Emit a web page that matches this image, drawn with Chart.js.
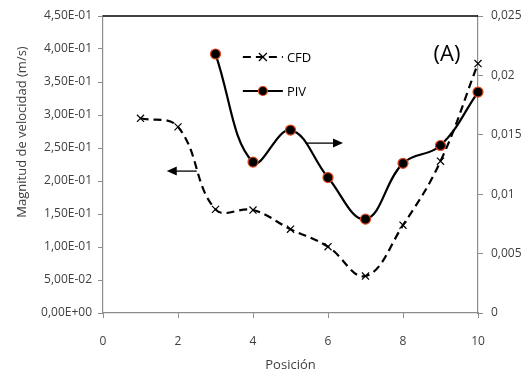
<!DOCTYPE html>
<html>
<head>
<meta charset="utf-8">
<script src="https://cdn.jsdelivr.net/npm/chart.js@4.4.1/dist/chart.umd.min.js"></script>
<style>
  html, body { margin: 0; padding: 0; background: #fff; }
  #wrap { width: 528px; height: 377px; position: relative; }
</style>
</head>
<body>
<div id="wrap"><canvas id="chart" width="528" height="377"></canvas></div>
<script>
// --- datos ---
const posiciones = [1, 2, 3, 4, 5, 6, 7, 8, 9, 10];
const cfdValores = [0.295, 0.282, 0.157, 0.156, 0.127, 0.1005, 0.056, 0.133, 0.230, 0.378];
const posicionesPiv = [3, 4, 5, 6, 7, 8, 9, 10];
const pivValores = [0.0218, 0.0127, 0.0154, 0.0114, 0.0079, 0.0126, 0.0141, 0.0186];
const ticksX = [0, 2, 4, 6, 8, 10];

const FONT = "'Open Sans', sans-serif";
const GRIS = '#8c8c8c';
const TEXTO = '#404040';

// formato tipo Excel: 4,50E-01
function formatoCientifico(v) {
  if (Math.abs(v) < 1e-12) return '0,00E+00';
  let exp = Math.floor(Math.log10(Math.abs(v)) + 1e-9);
  let man = v / Math.pow(10, exp);
  const signo = exp < 0 ? '-' : '+';
  const e = String(Math.abs(exp)).padStart(2, '0');
  return man.toFixed(2).replace('.', ',') + 'E' + signo + e;
}

// --- dibujos extra: borde superior, leyenda, flechas, (A), título eje Y ---
const extras = {
  id: 'extras',
  afterDatasetsDraw(chart) {
    const { ctx, chartArea: a, scales } = chart;
    ctx.save();

    // borde superior negro
    ctx.strokeStyle = '#000';
    ctx.lineWidth = 1.5;
    ctx.beginPath();
    ctx.moveTo(a.left, a.top);
    ctx.lineTo(a.right, a.top);
    ctx.stroke();

    // flechas
    const flecha = (x1, x2, y) => {
      const dir = Math.sign(x2 - x1);
      ctx.strokeStyle = '#000';
      ctx.fillStyle = '#000';
      ctx.lineWidth = 1.3;
      ctx.setLineDash([]);
      ctx.beginPath();
      ctx.moveTo(x1, y);
      ctx.lineTo(x2 - dir * 8, y);
      ctx.stroke();
      ctx.beginPath();
      ctx.moveTo(x2, y);
      ctx.lineTo(x2 - dir * 10, y - 4.5);
      ctx.lineTo(x2 - dir * 10, y + 4.5);
      ctx.closePath();
      ctx.fill();
    };
    const x = scales.x, y = scales.y, y2 = scales.y2;
    flecha(x.getPixelForValue(2.5), x.getPixelForValue(1.7), y.getPixelForValue(0.215));
    flecha(x.getPixelForValue(5.4), x.getPixelForValue(6.4), y2.getPixelForValue(0.0143));

    // leyenda
    const lx = x.getPixelForValue(3.73), lw = 40;
    const ly1 = a.top + 41, ly2 = a.top + 75;
    ctx.lineWidth = 2.2;
    ctx.setLineDash([8, 5]);
    ctx.beginPath();
    ctx.moveTo(lx, ly1); ctx.lineTo(lx + lw, ly1);
    ctx.stroke();
    ctx.setLineDash([]);
    ctx.lineWidth = 1.3;
    const cx = lx + lw / 2;
    ctx.beginPath();
    ctx.moveTo(cx - 4, ly1 - 4); ctx.lineTo(cx + 4, ly1 + 4);
    ctx.moveTo(cx + 4, ly1 - 4); ctx.lineTo(cx - 4, ly1 + 4);
    ctx.stroke();
    ctx.lineWidth = 2.2;
    ctx.beginPath();
    ctx.moveTo(lx, ly2); ctx.lineTo(lx + lw, ly2);
    ctx.stroke();
    ctx.beginPath();
    ctx.arc(cx, ly2, 4.5, 0, Math.PI * 2);
    ctx.fillStyle = '#000';
    ctx.fill();
    ctx.lineWidth = 1.2;
    ctx.strokeStyle = '#e0451c';
    ctx.stroke();

    ctx.fillStyle = '#000';
    ctx.font = '13px ' + FONT;
    ctx.textAlign = 'left';
    ctx.textBaseline = 'middle';
    ctx.fillText('CFD', lx + lw + 4, ly1 + 1);
    ctx.fillText('PIV', lx + lw + 4, ly2 + 1);

    // (A)
    ctx.font = '22px ' + FONT;
    ctx.textAlign = 'center';
    ctx.fillText('(A)', a.right - 31, a.top + 39);

    // título eje Y (no centrado en el área, como el original)
    ctx.save();
    ctx.translate(22, 132);
    ctx.rotate(-Math.PI / 2);
    ctx.font = '13px ' + FONT;
    ctx.fillStyle = TEXTO;
    ctx.textAlign = 'center';
    ctx.fillText('Magnitud de velocidad (m/s)', 0, 0);
    ctx.restore();

    ctx.restore();
  }
};

const ctx = document.getElementById('chart').getContext('2d');
new Chart(ctx, {
  type: 'line',
  data: {
    datasets: [
      {
        label: 'CFD',
        data: posiciones.map((p, i) => ({ x: p, y: cfdValores[i] })),
        yAxisID: 'y',
        borderColor: '#000',
        borderWidth: 2.2,
        borderDash: [8, 5],
        tension: 0.4,
        pointStyle: 'crossRot',
        pointRadius: 5,
        pointBorderWidth: 1.2,
        pointBorderColor: '#000',
        clip: false
      },
      {
        label: 'PIV',
        data: posicionesPiv.map((p, i) => ({ x: p, y: pivValores[i] })),
        yAxisID: 'y2',
        borderColor: '#000',
        borderWidth: 2.2,
        tension: 0.4,
        pointStyle: 'circle',
        pointRadius: 5,
        pointBackgroundColor: '#000',
        pointBorderColor: '#e0451c',
        pointBorderWidth: 1.2,
        clip: false
      }
    ]
  },
  options: {
    responsive: false,
    animation: false,
    events: [],
    layout: { padding: { top: 16, left: 0, right: 0, bottom: 0 } },
    plugins: { legend: { display: false }, tooltip: { enabled: false } },
    scales: {
      x: {
        type: 'linear',
        min: 0, max: 10,
        afterBuildTicks: s => { s.ticks = ticksX.map(v => ({ value: v })); },
        grid: { drawOnChartArea: false, color: GRIS, tickLength: 5 },
        border: { color: GRIS, width: 1.2 },
        ticks: { color: TEXTO, font: { family: FONT, size: 12 }, padding: 16 },
        title: { display: true, text: 'Posición', color: TEXTO, font: { family: FONT, size: 13 }, padding: { top: 0 } },
        afterFit: s => { s.height = 64; }
      },
      y: {
        position: 'left',
        min: 0, max: 0.45,
        ticks: { stepSize: 0.05, color: TEXTO, font: { family: FONT, size: 12 }, padding: 6, callback: v => formatoCientifico(v) },
        grid: { drawOnChartArea: false, color: GRIS, tickLength: 5 },
        border: { color: GRIS, width: 1.2 },
        afterFit: s => { s.width = 103; }
      },
      y2: {
        position: 'right',
        min: 0, max: 0.025,
        ticks: { stepSize: 0.005, color: TEXTO, font: { family: FONT, size: 12 }, padding: 8,
                 callback: v => String(parseFloat(v.toFixed(3))).replace('.', ',') },
        grid: { drawOnChartArea: false, color: GRIS, tickLength: 5 },
        border: { color: GRIS, width: 1.2 },
        afterFit: s => { s.width = 50; }
      }
    }
  },
  plugins: [extras]
});
</script>
</body>
</html>
